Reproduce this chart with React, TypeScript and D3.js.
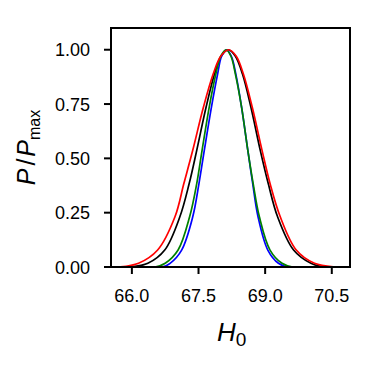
import React from "react";
import * as d3 from "d3";

// Normalised posterior levels shared by every curve (read at these heights)
const levels = [0, 0, 0.017, 0.078, 0.231, 0.384, 0.537, 0.735, 0.888, 0.97, 1.0, 0.97, 0.888, 0.735, 0.537, 0.384, 0.231, 0.078, 0.017, 0, 0];

// H0 positions where each curve crosses those levels
const blackX = [65.5, 65.96, 66.36, 66.74, 67.08, 67.29, 67.46, 67.67, 67.86, 68.01, 68.17, 68.33, 68.49, 68.68, 68.89, 69.07, 69.28, 69.64, 70.03, 70.35, 70.9];
const blueX = [65.5, 66.68, 66.86, 67.12, 67.37, 67.51, 67.63, 67.79, 67.93, 68.02, 68.13, 68.24, 68.34, 68.47, 68.61, 68.72, 68.84, 69.06, 69.30, 69.52, 70.9];
const greenX = [65.5, 66.52, 66.75, 67.04, 67.30, 67.46, 67.58, 67.74, 67.89, 68.00, 68.12, 68.23, 68.33, 68.47, 68.61, 68.73, 68.87, 69.11, 69.38, 69.62, 70.9];
const redX = [65.5, 65.72, 66.15, 66.58, 66.97, 67.17, 67.37, 67.61, 67.83, 68.00, 68.18, 68.35, 68.51, 68.71, 68.93, 69.11, 69.34, 69.70, 70.11, 70.58, 70.9];

const xTicks = [66.0, 67.5, 69.0, 70.5];
const xTickLabels = ["66.0", "67.5", "69.0", "70.5"];
const yTicks = [0, 0.25, 0.5, 0.75, 1.0];
const yTickLabels = ["0.00", "0.25", "0.50", "0.75", "1.00"];
const xDomain = [65.53, 70.91];
const yDomain = [0, 1.1];

const series = [
  { xs: blackX, color: "#000000" },
  { xs: blueX, color: "#0000ff" },
  { xs: greenX, color: "#008000" },
  { xs: redX, color: "#ff0000" },
];

export default function App() {
  const W = 379, H = 369;
  const left = 111, right = 350, top = 28, bottom = 267;
  const x = d3.scaleLinear().domain(xDomain).range([left, right]);
  const y = d3.scaleLinear().domain(yDomain).range([bottom, top]);
  const font = "'Liberation Sans', Arial, sans-serif";

  const line = d3
    .line<[number, number]>()
    .x((d) => x(d[0]))
    .y((d) => y(d[1]))
    .curve(d3.curveCatmullRom.alpha(0.5));

  return (
    <svg width={W} height={H} style={{ position: "absolute", left: 0, top: 0, background: "#fff" }}>
      <defs>
        <clipPath id="plotclip">
          <rect x={left} y={top} width={right - left} height={bottom - top} />
        </clipPath>
      </defs>
      <g clipPath="url(#plotclip)">
        {series.map((s, i) => (
          <path
            key={i}
            d={line(s.xs.map((v, j) => [v, levels[j]]) as [number, number][]) || ""}
            fill="none"
            stroke={s.color}
            strokeWidth={1.7}
          />
        ))}
      </g>
      <rect x={left} y={top} width={right - left} height={bottom - top} fill="none" stroke="#000" strokeWidth={2} />
      {xTicks.map((t, i) => (
        <g key={"x" + i}>
          <line x1={x(t)} x2={x(t)} y1={bottom} y2={bottom + 7} stroke="#000" strokeWidth={2} />
          <text x={x(t)} y={302} textAnchor="middle" fontFamily={font} fontSize={18}>
            {xTickLabels[i]}
          </text>
        </g>
      ))}
      {yTicks.map((t, i) => (
        <g key={"y" + i}>
          <line x1={left - 7} x2={left} y1={y(t)} y2={y(t)} stroke="#000" strokeWidth={2} />
          <text x={90} y={y(t) + 6.5} textAnchor="end" fontFamily={font} fontSize={18}>
            {yTickLabels[i]}
          </text>
        </g>
      ))}
      <text x={217} y={341} fontFamily={font} fontSize={26}>
        <tspan fontStyle="italic">H</tspan>
        <tspan fontSize={19} dy={5}>0</tspan>
      </text>
      <text
        transform={`translate(35, ${(top + bottom) / 2}) rotate(-90)`}
        textAnchor="middle"
        fontFamily={font}
        fontSize={25}
      >
        <tspan fontStyle="italic">P</tspan>
        <tspan dx={3}>/</tspan>
        <tspan dx={2} fontStyle="italic">P</tspan>
        <tspan fontSize={16} dy={5}>max</tspan>
      </text>
    </svg>
  );
}
